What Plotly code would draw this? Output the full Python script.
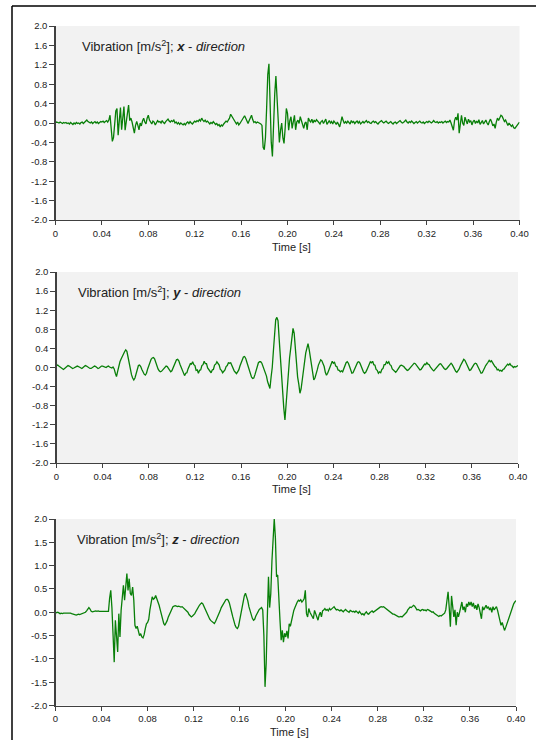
import plotly.graph_objects as go

# time step of the recorded samples [s]
DT = 0.001

# Vibration x-direction [m/s^2], one row = 10 ms
vib_x = [
    0.01, 0.02, 0.01, 0.00, 0.02, 0.01, -0.01, 0.01, 0.00, 0.01,
    -0.01, 0.00, -0.02, 0.01, -0.01, -0.03, 0.00, -0.02, 0.01, -0.01,
    0.00, -0.02, 0.01, 0.02, -0.01, 0.02, 0.04, 0.06, 0.03, 0.01,
    0.00, 0.02, -0.01, 0.01, 0.03, 0.00, 0.02, -0.01, 0.01, 0.03,
    0.02, 0.04, 0.01, 0.03, 0.05, 0.02, 0.06, 0.16, -0.10, -0.38,
    -0.30, 0.05, 0.25, 0.30, -0.25, 0.05, 0.32, -0.14, 0.10, 0.34,
    -0.15, 0.05, 0.25, 0.37, 0.05, 0.10, 0.02, -0.10, -0.21, -0.05,
    0.03, -0.05, -0.14, 0.00, -0.06, 0.04, 0.10, 0.02, -0.02, 0.10,
    0.16, 0.06, 0.00, -0.02, 0.04, 0.02, -0.04, 0.01, 0.05, 0.02,
    0.03, 0.00, 0.05, 0.01, -0.01, 0.03, 0.05, 0.08, 0.04, 0.02,
    0.05, 0.03, 0.06, 0.00, 0.02, -0.02, 0.01, -0.03, 0.00, -0.02,
    -0.04, -0.01, -0.04, 0.00, 0.02, -0.01, 0.03, 0.00, -0.02, 0.01,
    0.04, 0.02, 0.05, 0.03, 0.07, 0.04, 0.10, 0.06, 0.03, 0.06,
    0.02, 0.04, 0.00, -0.02, 0.01, -0.01, 0.03, 0.00, -0.03, -0.01,
    -0.05, -0.03, -0.08, -0.04, -0.06, -0.02, 0.00, 0.04, 0.02, 0.06,
    0.10, 0.18, 0.14, 0.09, 0.06, 0.01, -0.02, 0.02, -0.04, -0.01,
    0.03, 0.08, 0.12, 0.15, 0.10, 0.02, -0.01, 0.05, 0.10, 0.16,
    0.07, 0.01, 0.03, 0.00, 0.02, 0.01, 0.00, -0.02, -0.05, -0.50,
    -0.55, -0.30, 0.30, 1.00, 1.22, 0.40, -0.40, -0.69, 0.10, 0.60,
    0.97, 0.50, -0.10, -0.40, -0.15, 0.00, -0.30, -0.42, -0.10, 0.30,
    0.20, -0.15, 0.05, 0.13, -0.11, 0.05, 0.16, -0.14, 0.02, 0.06,
    -0.01, 0.13, 0.03, -0.02, -0.11, 0.00, 0.02, -0.14, 0.10, 0.05,
    0.02, 0.08, 0.00, 0.06, 0.02, 0.07, 0.04, 0.00, -0.02, 0.03,
    0.05, -0.01, 0.04, 0.08, -0.03, 0.02, 0.05, 0.00, 0.03, -0.02,
    0.04, 0.01, -0.03, 0.02, -0.05, -0.08, 0.02, 0.13, 0.05, -0.01,
    0.03, 0.00, 0.04, 0.02, -0.02, 0.05, 0.01, 0.03, -0.01, 0.02,
    0.04, 0.00, 0.03, -0.02, 0.01, 0.03, 0.00, 0.02, 0.05, 0.01,
    0.03, 0.00, -0.01, 0.02, 0.04, 0.01, 0.03, 0.00, -0.02, 0.01,
    0.03, 0.05, 0.02, 0.00, 0.02, 0.04, 0.01, -0.01, 0.01, 0.03,
    0.00, -0.02, 0.01, 0.02, -0.01, 0.01, 0.03, 0.05, 0.02, 0.00,
    0.01, 0.03, 0.06, 0.02, 0.00, 0.03, 0.01, 0.04, 0.02, -0.01,
    0.01, 0.03, 0.00, 0.02, 0.04, 0.01, 0.00, 0.02, -0.01, 0.01,
    0.03, 0.01, 0.04, 0.02, 0.00, 0.02, 0.05, 0.02, 0.01, 0.03,
    0.00, 0.02, 0.01, 0.03, 0.00, 0.02, 0.04, 0.01, 0.03, 0.02,
    0.06, 0.00, -0.08, -0.15, 0.05, 0.12, 0.06, 0.20, -0.21, 0.05,
    0.16, 0.00, -0.05, 0.12, 0.04, -0.02, 0.08, 0.02, 0.05, -0.04,
    0.03, 0.06, -0.01, 0.04, 0.00, 0.07, -0.03, 0.02, 0.05, -0.02,
    0.03, 0.06, 0.00, -0.04, 0.03, 0.08, 0.02, -0.06, -0.02, -0.11,
    0.02, 0.10, 0.05, 0.12, 0.16, 0.14, 0.10, 0.03, 0.06, -0.02,
    -0.05, 0.00, -0.03, -0.07, -0.04, -0.10, -0.11, -0.08, -0.03, 0.00,
    0.02,
]

# Vibration y-direction [m/s^2]
vib_y = [
    0.04, 0.05, 0.03, 0.01, -0.01, -0.03, -0.04, -0.02, 0.00, 0.02,
    0.04, 0.03, 0.01, -0.01, -0.02, -0.01, 0.00, 0.02, 0.03, 0.02,
    0.00, -0.01, -0.02, 0.00, 0.02, 0.04, 0.03, 0.01, -0.01, -0.02,
    -0.02, 0.00, 0.02, 0.03, 0.02, 0.00, -0.02, -0.01, 0.01, 0.03,
    0.03, 0.02, 0.01, 0.00, 0.02, 0.03, 0.01, -0.01, -0.01, 0.01,
    -0.03, -0.12, -0.19, -0.08, 0.05, 0.12, 0.18, 0.24, 0.28, 0.33,
    0.37, 0.34, 0.22, 0.08, -0.05, -0.15, -0.22, -0.26, -0.22, -0.12,
    -0.02, 0.04, 0.05, 0.02, -0.04, -0.10, -0.14, -0.16, -0.12, -0.03,
    0.05, 0.12, 0.17, 0.20, 0.21, 0.18, 0.10, 0.03, -0.03, -0.07,
    -0.09, -0.08, -0.05, -0.01, 0.02, 0.03, 0.02, -0.02, -0.06, -0.09,
    -0.07, -0.01, 0.06, 0.12, 0.16, 0.17, 0.14, 0.07, 0.00, -0.07,
    -0.12, -0.17, -0.12, -0.11, -0.03, 0.01, 0.08, 0.07, 0.12, 0.06,
    0.04, -0.06, -0.05, -0.12, -0.06, -0.05, 0.04, 0.06, 0.13, 0.08,
    0.08, -0.01, -0.05, -0.09, -0.11, -0.05, -0.04, 0.05, 0.07, 0.12,
    0.07, 0.05, -0.04, -0.06, -0.11, -0.08, -0.05, 0.02, 0.04, 0.10,
    0.09, 0.10, 0.03, -0.02, -0.07, -0.10, -0.13, -0.09, -0.05, 0.03,
    0.10, 0.17, 0.22, 0.23, 0.19, 0.11, 0.02, -0.08, -0.15, -0.20,
    -0.23, -0.22, -0.15, -0.05, 0.04, 0.10, 0.12, 0.12, 0.09, 0.03,
    -0.05, -0.12, -0.18, -0.30, -0.40, -0.44, -0.20, 0.00, 0.35, 0.70,
    1.00, 1.05, 0.98, 0.60, 0.20, -0.15, -0.40, -0.85, -1.10, -0.75,
    -0.40, 0.00, 0.20, 0.40, 0.70, 0.82, 0.72, 0.40, 0.00, -0.20,
    -0.35, -0.54, -0.45, -0.25, 0.00, 0.15, 0.30, 0.40, 0.50, 0.38,
    0.23, 0.05, -0.10, -0.26, -0.22, -0.10, -0.05, 0.05, 0.10, 0.16,
    0.14, 0.08, 0.02, -0.10, -0.16, -0.12, -0.06, 0.03, 0.06, 0.13,
    0.09, 0.11, 0.03, 0.02, -0.05, -0.06, -0.09, -0.07, -0.09, -0.02,
    0.04, 0.10, 0.12, 0.09, 0.02, -0.06, -0.12, -0.11, -0.06, 0.01,
    0.07, 0.11, 0.12, 0.09, 0.03, -0.04, -0.09, -0.12, -0.10, -0.05,
    0.02, 0.08, 0.12, 0.10, 0.13, 0.06, 0.05, -0.04, -0.06, -0.12,
    -0.09, -0.11, -0.04, -0.02, 0.06, 0.06, 0.12, 0.09, 0.12, 0.06,
    0.04, -0.03, -0.06, -0.09, -0.10, -0.07, -0.03, 0.01, 0.04, 0.05,
    0.04, 0.02, -0.01, -0.04, -0.06, -0.05, -0.02, 0.02, 0.05, 0.08,
    0.09, 0.08, 0.05, 0.01, -0.03, -0.05, -0.04, 0.00, 0.04, 0.07,
    0.06, 0.10, 0.07, 0.06, 0.01, -0.03, -0.05, -0.07, -0.04, -0.02,
    0.03, 0.05, 0.07, 0.08, 0.04, 0.02, -0.02, -0.04, -0.03, 0.00,
    0.04, 0.07, 0.09, 0.06, 0.01, -0.04, -0.08, -0.10, -0.07, -0.03,
    0.03, 0.09, 0.14, 0.17, 0.15, 0.10, 0.03, -0.03, -0.06, -0.05,
    -0.02, 0.03, 0.07, 0.09, 0.08, 0.03, -0.03, -0.08, -0.12, -0.11,
    -0.07, -0.01, 0.04, 0.09, 0.11, 0.15, 0.12, 0.14, 0.09, 0.06,
    0.02, 0.00, -0.05, -0.04, -0.07, -0.06, -0.08, -0.04, -0.03, 0.01,
    0.04, 0.07, 0.05, 0.08, 0.04, 0.03, 0.00, 0.02, 0.01, 0.03,
    0.04,
]

# Vibration z-direction [m/s^2]
vib_z = [
    0.00, -0.01, 0.00, -0.02, -0.03, -0.02, -0.03, -0.02, -0.02, -0.01,
    -0.01, -0.02, -0.01, -0.02, -0.03, -0.04, -0.04, -0.05, -0.06, -0.05,
    -0.04, -0.05, -0.04, -0.03, -0.02, -0.01, 0.00, 0.03, 0.08, 0.10,
    0.07, 0.02, 0.01, 0.02, 0.02, 0.03, 0.02, 0.03, 0.02, 0.02,
    0.03, 0.02, 0.03, 0.02, 0.03, 0.02, 0.02, 0.30, 0.47, 0.10,
    -0.40, -1.07, -0.17, -0.55, -0.85, -0.03, -0.53, 0.04, 0.33, 0.58,
    0.26, 0.60, 0.83, 0.47, 0.72, 0.40, 0.36, 0.54, 0.26, -0.28,
    -0.35, -0.30, -0.42, -0.50, -0.46, -0.53, -0.55, -0.48, -0.35, -0.25,
    -0.22, -0.15, 0.05, 0.25, 0.33, 0.28, 0.30, 0.36, 0.30, 0.25,
    0.15, 0.05, -0.05, -0.15, -0.24, -0.28, -0.24, -0.18, -0.10, -0.04,
    0.02, 0.08, 0.12, 0.13, 0.14, 0.13, 0.12, 0.13, 0.12, 0.11,
    0.12, 0.10, 0.08, 0.05, 0.03, 0.00, -0.05, -0.08, -0.10, -0.08,
    -0.06, -0.03, 0.02, 0.07, 0.12, 0.15, 0.18, 0.20, 0.18, 0.12,
    0.06, 0.00, -0.05, -0.10, -0.15, -0.18, -0.20, -0.23, -0.24, -0.20,
    -0.15, -0.10, -0.03, 0.03, 0.10, 0.15, 0.20, 0.24, 0.27, 0.28,
    0.26, 0.20, 0.12, 0.00, -0.10, -0.20, -0.28, -0.33, -0.35, -0.30,
    -0.18, -0.05, 0.10, 0.25, 0.35, 0.41, 0.35, 0.25, 0.12, 0.02,
    -0.08, -0.13, -0.17, -0.15, -0.08, -0.02, 0.03, 0.06, 0.08, 0.10,
    0.05, -0.50, -1.60, -1.10, -0.10, 0.76, 0.10, 0.40, 1.10, 1.50,
    2.00, 1.60, 0.76, 0.80, 0.19, -0.17, -0.60, -0.39, -0.64, -0.45,
    -0.53, -0.40, -0.56, -0.25, -0.30, -0.17, -0.05, 0.04, 0.10, 0.19,
    0.22, 0.26, 0.24, 0.27, 0.22, 0.25, 0.29, 0.47, -0.03, -0.10,
    0.08, 0.00, -0.06, -0.10, -0.14, 0.04, -0.05, -0.10, -0.17, -0.06,
    0.00, -0.10, 0.03, 0.05, 0.08, 0.04, 0.06, 0.03, 0.08, 0.05,
    0.07, 0.10, 0.12, 0.08, 0.05, 0.06, 0.04, 0.03, 0.05, 0.02,
    0.01, 0.04, 0.06, 0.03, 0.02, 0.00, 0.04, 0.03, 0.01, 0.02,
    0.00, 0.03, 0.01, -0.02, 0.02, -0.01, -0.05, -0.03, -0.06, -0.02,
    0.01, -0.03, -0.04, -0.01, 0.01, 0.03, 0.00, 0.02, 0.05, 0.06,
    0.08, 0.10, 0.11, 0.12, 0.11, 0.12, 0.10, 0.08, 0.06, 0.03,
    0.02, 0.00, -0.02, -0.04, -0.04, -0.06, -0.07, -0.09, -0.10, -0.10,
    -0.09, -0.10, -0.08, -0.06, -0.03, 0.00, 0.05, 0.08, 0.11, 0.10,
    0.12, 0.15, 0.13, 0.08, 0.05, 0.06, 0.04, 0.03, 0.05, 0.06,
    0.04, 0.05, 0.03, 0.06, 0.05, 0.04, 0.02, 0.00, 0.01, -0.02,
    -0.04, -0.06, -0.08, -0.09, -0.07, -0.08, -0.06, -0.04, -0.02, 0.05,
    0.30, 0.44, 0.10, -0.31, 0.35, 0.05, -0.10, 0.05, -0.28, 0.00,
    -0.10, 0.00, 0.10, 0.22, 0.05, 0.12, 0.00, 0.18, 0.12, 0.22,
    0.15, 0.22, 0.12, 0.20, 0.08, 0.15, 0.05, 0.18, 0.10, -0.02,
    -0.14, 0.12, 0.05, 0.10, 0.15, 0.08, 0.12, 0.05, 0.10, 0.00,
    0.12, 0.05, 0.08, 0.12, 0.04, -0.05, -0.20, -0.28, -0.22, -0.30,
    -0.39, -0.33, -0.25, -0.18, -0.10, -0.02, 0.05, 0.12, 0.18, 0.22,
    0.25,
]

x_tick_vals = [0, 0.04, 0.08, 0.12, 0.16, 0.20, 0.24, 0.28, 0.32, 0.36, 0.40]
x_tick_text = ["0", "0.04", "0.08", "0.12", "0.16", "0.20", "0.24", "0.28", "0.32", "0.36", "0.40"]
y_tick_vals_xy = [2.0, 1.6, 1.2, 0.8, 0.4, 0.0, -0.4, -0.8, -1.2, -1.6, -2.0]
y_tick_text_xy = ["2.0", "1.6", "1.2", "0.8", "0.4", "0.0", "-0.4", "-0.8", "-1.2", "-1.6", "-2.0"]
y_tick_vals_z = [2.0, 1.5, 1.0, 0.5, 0.0, -0.5, -1.0, -1.5, -2.0]
y_tick_text_z = ["2.0", "1.5", "1.0", "0.5", "0.0", "-0.5", "-1.0", "-1.5", "-2.0"]
panel_labels = [
    "Vibration [m/s<sup>2</sup>]; <b><i>x</i></b> - <i>direction</i>",
    "Vibration [m/s<sup>2</sup>]; <b><i>y</i></b> - <i>direction</i>",
    "Vibration [m/s<sup>2</sup>]; <b><i>z</i></b> - <i>direction</i>",
]
x_title = "Time [s]"

W, H = 536, 740
FONT = "Liberation Sans, Arial, sans-serif"
GREEN = "#087f08"
AX = "#404040"

def fx(px):
    return px / W

def fy(py):
    return 1 - py / H

# pixel boxes of the three plot areas: (left, right, top, bottom)
boxes = [(55.5, 519.5, 26, 220), (56.5, 518, 272, 463), (55.5, 516, 519, 705.5)]

fig = go.Figure()
series = [vib_x, vib_y, vib_z]
for i, vals in enumerate(series):
    t = [k * DT for k in range(len(vals))]
    sfx = "" if i == 0 else str(i + 1)
    fig.add_trace(go.Scatter(
        x=t, y=vals, mode="lines",
        line=dict(color=GREEN, width=1.3),
        xaxis="x" + sfx, yaxis="y" + sfx, showlegend=False,
        hoverinfo="skip",
    ))

layout = dict(
    width=W, height=H,
    margin=dict(l=0, r=0, t=0, b=0),
    paper_bgcolor="white",
    plot_bgcolor="#f2f2f2",
    template="none",
    font=dict(family=FONT, color="#222"),
    showlegend=False,
)

annotations = []
shapes = []
for i, (l, r, tp, bt) in enumerate(boxes):
    sfx = "" if i == 0 else str(i + 1)
    yvals = y_tick_vals_z if i == 2 else y_tick_vals_xy
    ytext = y_tick_text_z if i == 2 else y_tick_text_xy
    layout["xaxis" + sfx] = dict(
        domain=[fx(l), fx(r)], anchor="y" + sfx, range=[0, 0.4],
        tickvals=x_tick_vals, ticktext=x_tick_text,
        ticks="outside", ticklen=4, tickwidth=1, tickcolor=AX,
        showline=True, linecolor=AX, linewidth=1.2,
        showgrid=False, zeroline=False, automargin=False,
        tickfont=dict(size=9.5, family=FONT, color="#222"),
    )
    layout["yaxis" + sfx] = dict(
        domain=[fy(bt), fy(tp)], anchor="x" + sfx, range=[-2.0, 2.0],
        tickvals=yvals, ticktext=ytext,
        ticks="outside", ticklen=5, tickwidth=1, tickcolor=AX,
        showline=True, linecolor=AX, linewidth=1.2,
        showgrid=False, zeroline=False, automargin=False,
        tickfont=dict(size=9.5, family=FONT, color="#222"),
    )
    annotations.append(dict(
        text=panel_labels[i], xref="paper", yref="paper",
        x=fx(l + 24 if i == 0 else l + 19.5), y=fy(tp + 20),
        xanchor="left", yanchor="middle", showarrow=False,
        font=dict(size=13, family=FONT, color="#222"),
    ))
    annotations.append(dict(
        text=x_title, xref="paper", yref="paper",
        x=fx((l + r) / 2 + 4), y=fy(bt + 26.5),
        xanchor="center", yanchor="middle", showarrow=False,
        font=dict(size=11, family=FONT, color="#222"),
    ))

# outer frame lines (top and left)
shapes.append(dict(type="line", xref="paper", yref="paper",
                   x0=fx(12), x1=1, y0=fy(6), y1=fy(6),
                   line=dict(color="black", width=1.5)))
shapes.append(dict(type="line", xref="paper", yref="paper",
                   x0=fx(12), x1=fx(12), y0=fy(6), y1=0,
                   line=dict(color="black", width=1.5)))

layout["annotations"] = annotations
layout["shapes"] = shapes
fig.update_layout(**layout)

fig.write_html(
    "out.html",
    config={"displayModeBar": False, "staticPlot": True},
    post_script="document.body.style.margin='0';document.body.style.overflow='hidden';",
)
